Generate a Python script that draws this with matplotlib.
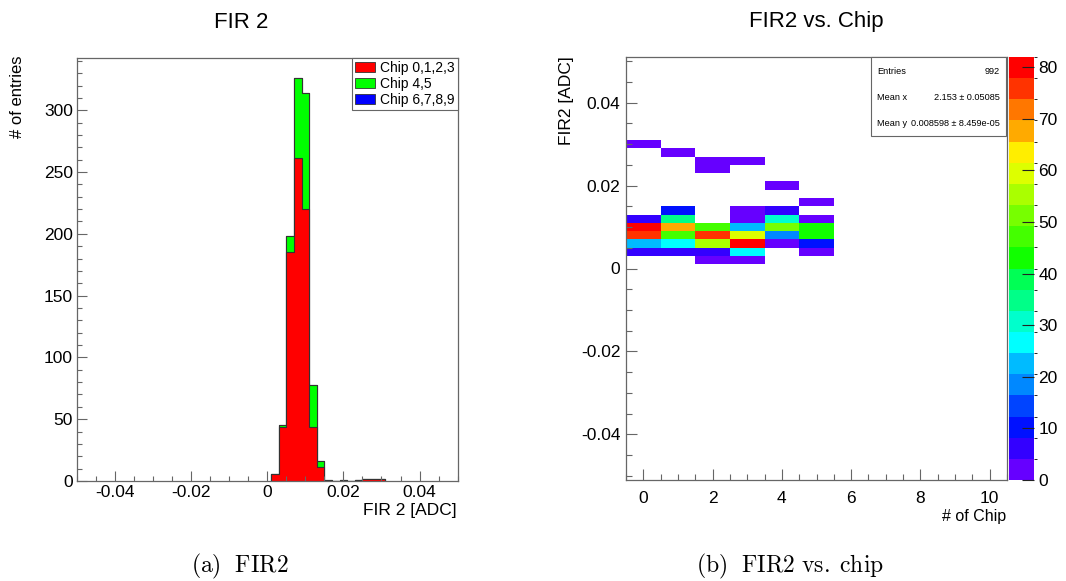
import numpy as np
import matplotlib
matplotlib.use("Agg")
import matplotlib.pyplot as plt
from matplotlib.colors import ListedColormap, BoundaryNorm
from matplotlib.patches import Patch, Rectangle
from matplotlib.ticker import MultipleLocator

plt.rcParams['font.family'] = ['Liberation Sans', 'DejaVu Sans']
plt.rcParams['axes.unicode_minus'] = False
plt.rcParams['mathtext.fontset'] = 'cm'

# FIR2 bin centres [ADC], bin width 0.002
fir2_bins = [0.002, 0.004, 0.006, 0.008, 0.010, 0.012, 0.014, 0.016,
             0.018, 0.020, 0.022, 0.024, 0.026, 0.028, 0.030]
chip_ids = [0, 1, 2, 3, 4, 5]

# entries per FIR2 bin for every chip
counts_chip0 = [0, 6, 21, 76, 82, 7, 0, 0, 0, 0, 0, 0, 0, 0, 2]
counts_chip1 = [0, 6, 27, 49, 68, 35, 9, 0, 0, 0, 0, 0, 0, 2, 0]
counts_chip2 = [3, 6, 57, 76, 48, 0, 0, 0, 0, 0, 0, 1, 1, 0, 0]
counts_chip3 = [3, 26, 80, 60, 22, 2, 2, 0, 0, 0, 0, 0, 1, 0, 0]
counts_chip4 = [0, 0, 3, 20, 51, 31, 5, 0, 0, 1, 0, 0, 0, 0, 0]
counts_chip5 = [0, 1, 10, 45, 43, 3, 0, 1, 0, 0, 0, 0, 0, 0, 0]

group_labels = ['Chip 0,1,2,3', 'Chip 4,5', 'Chip 6,7,8,9']
group_colors = ['#ff0000', '#00ff00', '#0000ff']

stat_mean_x = '2.153 \u00b1 0.05085'
stat_mean_y = '0.008598 \u00b1 8.459e-05'

# ROOT-like rainbow palette, 20 contours
palette = ['#6600ff', '#3300ff', '#0011ff', '#0044ff', '#0088ff',
           '#00bbff', '#00ffff', '#00ffcc', '#00ff88', '#00ff55',
           '#11ff00', '#44ff00', '#77ff00', '#aaff00', '#ddff00',
           '#ffee00', '#ffaa00', '#ff7700', '#ff3300', '#ff0000']

counts = np.array([counts_chip0, counts_chip1, counts_chip2,
                   counts_chip3, counts_chip4, counts_chip5])
centers = np.array(fir2_bins)
edges = np.append(centers - 0.001, centers[-1] + 0.001)

red = counts[0:4].sum(axis=0)
green = counts[4:6].sum(axis=0)
blue = np.zeros_like(red)

W, H = 1066, 581
fig = plt.figure(figsize=(W / 100, H / 100), dpi=100)


def px_box(x0, y0, x1, y1):
    return [x0 / W, 1 - y1 / H, (x1 - x0) / W, (y1 - y0) / H]


def tick_fmt(v, p):
    return '0' if abs(v) < 1e-9 else f'{v:g}'


frame_col = '#666666'

# ---- left: stacked FIR 2 histogram
ax1 = fig.add_axes(px_box(77, 58, 457.6, 481))
stack_tot = red + green + blue
ax1.stairs(stack_tot, edges, fill=True, facecolor=group_colors[2],
           edgecolor='#333333', linewidth=0.8)
ax1.stairs(red + green, edges, fill=True, facecolor=group_colors[1],
           edgecolor='#333333', linewidth=0.8)
ax1.stairs(red, edges, fill=True, facecolor=group_colors[0],
           edgecolor='#333333', linewidth=0.8)
ax1.set_xlim(-0.05, 0.05)
ax1.set_ylim(0, 1.05 * stack_tot.max())
ax1.xaxis.set_major_locator(MultipleLocator(0.02))
ax1.xaxis.set_minor_locator(MultipleLocator(0.005))
ax1.yaxis.set_major_locator(MultipleLocator(50))
ax1.yaxis.set_minor_locator(MultipleLocator(10))
ax1.xaxis.set_major_formatter(plt.FuncFormatter(tick_fmt))
ax1.tick_params(which='both', direction='in', top=False, right=False,
                color=frame_col, labelsize=12.5, pad=3)
ax1.tick_params(which='major', length=7.2, width=0.8)
ax1.tick_params(which='minor', length=3.6, width=0.8)
for s in ax1.spines.values():
    s.set_color(frame_col)
    s.set_linewidth(0.9)

handles = [Patch(facecolor=c, edgecolor='#333333', linewidth=0.6) for c in group_colors]
leg = ax1.legend(handles, group_labels, loc='upper right',
                 bbox_to_anchor=(1.0, 1.0), fontsize=10, frameon=True,
                 fancybox=False, edgecolor=frame_col, framealpha=1,
                 borderpad=0.2, labelspacing=0.15, handlelength=1.5,
                 handleheight=0.75, handletextpad=0.35, borderaxespad=0)
leg.get_frame().set_linewidth(0.8)

fig.text(241 / W, 1 - 22 / H, 'FIR 2', ha='center', va='center', fontsize=16)
fig.text(18 / W, 1 - 56 / H, '# of entries', rotation=90, ha='center',
         va='top', fontsize=12)
fig.text(457 / W, 1 - 510 / H, 'FIR 2 [ADC]', ha='right', va='center', fontsize=12.5)
fig.text(240 / W, 1 - 566 / H, r'$\mathrm{(a)\ \ FIR2}$', ha='center',
         va='center', fontsize=17)

# ---- right: FIR2 vs chip
ax2 = fig.add_axes(px_box(626, 57, 1007, 480))
zmax = counts.max()
cmap = ListedColormap(palette)
norm = BoundaryNorm(np.linspace(0, zmax, len(palette) + 1), cmap.N)
x_edges = np.append(np.array(chip_ids) - 0.5, chip_ids[-1] + 0.5)
grid = np.ma.masked_equal(counts.T, 0)
mesh = ax2.pcolormesh(x_edges, edges, grid, cmap=cmap, norm=norm)
ax2.set_xlim(-0.5, 10.5)
ax2.set_ylim(-0.051, 0.051)
ax2.xaxis.set_major_locator(MultipleLocator(2))
ax2.xaxis.set_minor_locator(MultipleLocator(0.5))
ax2.yaxis.set_major_locator(MultipleLocator(0.02))
ax2.yaxis.set_minor_locator(MultipleLocator(0.005))
ax2.yaxis.set_major_formatter(plt.FuncFormatter(tick_fmt))
ax2.tick_params(which='both', direction='in', top=False, right=False,
                color=frame_col, labelsize=12.5)
ax2.tick_params(axis='x', pad=8)
ax2.tick_params(axis='y', pad=4)
ax2.tick_params(which='major', length=8, width=0.8)
ax2.tick_params(which='minor', length=4.3, width=0.8)
for s in ax2.spines.values():
    s.set_color(frame_col)
    s.set_linewidth(0.9)

cax = fig.add_axes(px_box(1009, 57, 1034, 480))
cb = fig.colorbar(mesh, cax=cax, ticks=np.arange(0, 81, 10))
cb.outline.set_visible(False)
cax.tick_params(direction='in', length=9, width=0.8, color='#222222',
                labelsize=12.5, pad=3)

# statistics box
fig.patches.append(Rectangle((871 / W, 1 - 136 / H), (1006 - 871) / W,
                             (136 - 57) / H, transform=fig.transFigure,
                             facecolor='white', edgecolor=frame_col,
                             linewidth=0.8, zorder=5))
stats = [('Entries', str(int(counts.sum()))),
         ('Mean x', stat_mean_x),
         ('Mean y', stat_mean_y)]
for i, (lab, val) in enumerate(stats):
    yy = 1 - (71 + 26 * i) / H
    fig.text(877 / W, yy, lab, ha='left', va='center', fontsize=6.6, zorder=6)
    fig.text(1000 / W, yy, val, ha='right', va='center', fontsize=6.6, zorder=6)

fig.text(816 / W, 1 - 22 / H, 'FIR2 vs. Chip', ha='center', va='center', fontsize=16)
fig.text(567 / W, 1 - 56 / H, 'FIR2 [ADC]', rotation=90, ha='center',
         va='top', fontsize=12.5)
fig.text(1006 / W, 1 - 516 / H, '# of Chip', ha='right', va='center', fontsize=11.5)
fig.text(790 / W, 1 - 566 / H, r'$\mathrm{(b)\ \ FIR2\ vs.\;chip}$',
         ha='center', va='center', fontsize=17)

fig.savefig('out.png', dpi=100)
